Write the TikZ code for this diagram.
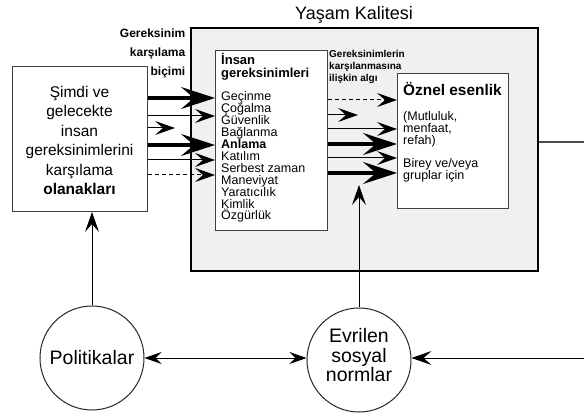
\documentclass[tikz,border=0pt]{standalone}
\usepackage{fontspec}
\setmainfont{Liberation Sans}
\usetikzlibrary{arrows.meta,calc}
\begin{document}
\begin{tikzpicture}[x=1pt,y=-1pt,
  boxst/.style={draw=black!75, line width=1pt, fill=white, inner sep=0pt, anchor=north west},
  lnw/.style={inner sep=0pt, anchor=base west},
  lnc/.style={inner sep=0pt, anchor=base},
  lne/.style={inner sep=0pt, anchor=base east},
  thinhead/.tip={Stealth[length=20pt 0 0,width=14pt 0 0,inset=8pt 0 0]},
  thickhead/.tip={Stealth[length=34pt 0 0,width=22pt 0 0,inset=13pt 0 0]},
  thinar/.style={line width=1pt, draw=black, -thinhead},
  thickar/.style={line width=3.2pt, -thickhead},
  dashar/.style={thinar, dash pattern=on 4pt off 3pt},
  circ/.style={circle, draw=black!85, line width=1pt, fill=white, minimum size=104pt, inner sep=0pt},
  bothar/.style={line width=1pt, draw=black, {Stealth[length=17pt 0 0,width=12pt 0 0,inset=6pt 0 0]}-{Stealth[length=17pt 0 0,width=12pt 0 0,inset=6pt 0 0]}}
]
\useasboundingbox (0,0) rectangle (584,414);

% big box
\node[draw, line width=2pt, fill=black!6, minimum width=347pt, minimum height=243pt, anchor=north west, inner sep=0pt] (qol) at (190,27) {};
\fill[white] (293,6) rectangle (427,26.6);
\node[lnw, font=\fontsize{18}{20}\selectfont] (title) at (295,20) {Yaşam Kalitesi};

% left box
\node[boxst, minimum width=135pt, minimum height=145pt] (lbox) at (12,66) {};
\foreach \t [count=\i] in {Şimdi ve, gelecekte, insan, gereksinimlerini, karşılama, \textbf{olanakları}}
  \node[lnc, font=\fontsize{15.5}{18}\selectfont] (lb\i) at (79.5,{97.5+19.4*(\i-1)}) {\t};

% label left
\foreach \t [count=\i] in {Gereksinim, karşılama, biçimi}
  \node[lne, font=\fontsize{12}{14}\bfseries] (gk\i) at (185.5,{37.3+19*(\i-1)}) {\t};

% inner box
\node[boxst, minimum width=112pt, minimum height=180pt] (ibox) at (215,50) {};
\node[lnw, font=\fontsize{13}{15}\bfseries] (ih1) at (221,65) {İnsan};
\node[lnw, font=\fontsize{13}{15}\bfseries] (ih2) at (221,77.5) {gereksinimleri};
\foreach \t [count=\i] in {Geçinme, Çoğalma, Güvenlik, Bağlanma, \textbf{Anlama}, Katılım, Serbest zaman, Maneviyat, Yaratıcılık, Kimlik, Özgürlük}
  \node[lnw, font=\fontsize{12.5}{13}\selectfont] (n\i) at (221,{101+11.9*(\i-1)}) {\t};

% perception label
\foreach \t [count=\i] in {Gereksinimlerin, karşılanmasına, ilişkin algı}
  \node[lnw, font=\fontsize{10}{12}\bfseries] (pl\i) at (329,{57.3+12.3*(\i-1)}) {\t};

% oznel box
\node[boxst, minimum width=111pt, minimum height=135pt] (obox) at (397,73) {};
\node[lnw, font=\fontsize{15.4}{17}\bfseries] (oh) at (403,95.5) {Öznel esenlik};
\foreach \t [count=\i] in {{(Mutluluk,}, {menfaat,}, {refah)}}
  \node[lnw, font=\fontsize{12.5}{13}\selectfont] (om\i) at (403,{120.5+12*(\i-1)}) {\t};
\node[lnw, font=\fontsize{12.5}{13}\selectfont] (ob1) at (403,168) {Birey ve/veya};
\node[lnw, font=\fontsize{12.5}{13}\selectfont] (ob2) at (403,180) {gruplar için};

% circles
\node[circ] (pol) at (92,358) {};
\node[lnc, font=\fontsize{19.5}{20}\selectfont] (polt) at (92,364.5) {Politikalar};
\node[circ] (evr) at (359,360) {};
\foreach \t [count=\i] in {Evrilen, sosyal, normlar}
  \node[lnc, font=\fontsize{19.5}{20}\selectfont] (ev\i) at (359,{342.5+19.5*(\i-1)}) {\t};

% free ends
\coordinate (s1) at (175,128);
\coordinate (s2) at (358,115);
\coordinate (evtip) at (359,185);
\coordinate (rout) at (584,142);
\coordinate (rin) at (584,358);

% arrows left -> inner
\draw[thickar] (lbox.east |- 0,98) -- (ibox.west |- 0,98);
\draw[thinar] (lbox.east |- 0,116) -- (ibox.west |- 0,116);
\draw[thinar] (lbox.east |- 0,128) -- (s1);
\draw[thickar] (lbox.east |- 0,145) -- (ibox.west |- 0,145);
\draw[thinar] (lbox.east |- 0,160) -- (ibox.west |- 0,160);
\draw[dashar] (lbox.east |- 0,175) -- (ibox.west |- 0,175);

% arrows inner -> oznel
\draw[dashar] (ibox.east |- 0,100) -- (obox.west |- 0,100);
\draw[thinar] (ibox.east |- 0,115) -- (s2);
\draw[thinar] (ibox.east |- 0,129) -- (obox.west |- 0,129);
\draw[thickar] (ibox.east |- 0,144) -- (obox.west |- 0,144);
\draw[thinar] (ibox.east |- 0,158) -- (obox.west |- 0,158);
\draw[thickar] (ibox.east |- 0,173) -- (obox.west |- 0,173);

% vertical arrows
\draw[thinar] (pol.north) -- (lbox.south -| pol.north);
\draw[thinar] (evr.north) -- (evtip);

% bottom
\draw[bothar] (pol.east |- 0,358) -- (evr.west |- 0,358);
\draw[thinar] (rin) -- (evr.east |- rin);
\draw[line width=1.2pt, draw=black!70] (qol.east |- rout) -- (rout);
\end{tikzpicture}
\end{document}
